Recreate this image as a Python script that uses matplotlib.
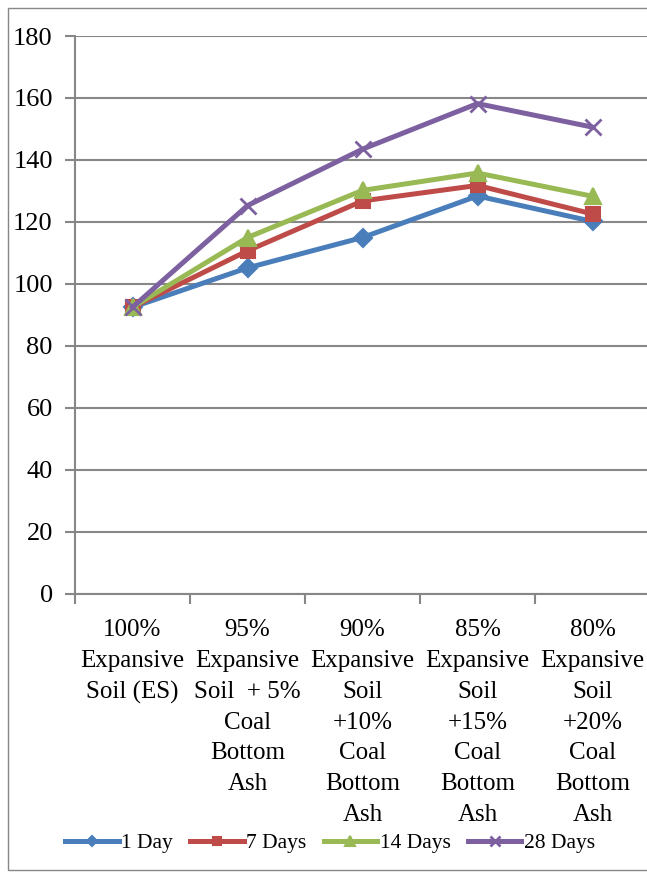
import matplotlib.pyplot as plt
import numpy as np
from matplotlib.patches import Rectangle

categories = [
    "100%\nExpansive\nSoil (ES)",
    "95%\nExpansive\nSoil  + 5%\nCoal\nBottom\nAsh",
    "90%\nExpansive\nSoil\n+10%\nCoal\nBottom\nAsh",
    "85%\nExpansive\nSoil\n+15%\nCoal\nBottom\nAsh",
    "80%\nExpansive\nSoil\n+20%\nCoal\nBottom\nAsh",
]
day_1 = [92.5, 105.2, 115.0, 128.4, 120.2]
days_7 = [92.5, 110.7, 126.8, 131.8, 122.6]
days_14 = [92.5, 115.0, 130.2, 135.8, 128.3]
days_28 = [92.5, 125.3, 143.5, 158.2, 150.6]

series = [
    ("1 Day", day_1, "#4A7EBB", "D", 9),
    ("7 Days", days_7, "#BE4B48", "s", 10),
    ("14 Days", days_14, "#98B954", "^", 12),
    ("28 Days", days_28, "#7D60A0", "x", 12),
]

plt.rcParams["font.family"] = ["Liberation Serif", "DejaVu Serif"]

fig = plt.figure(figsize=(6.47, 8.73), dpi=100)
ax = fig.add_axes([75 / 647, 1 - 594 / 873, 575 / 647, 558 / 873])

x = np.arange(len(categories))
for name, vals, color, marker, ms in series:
    ax.plot(x, vals, color=color, lw=3.6, marker=marker, markersize=ms,
            markeredgewidth=1.5 if marker != "x" else 2.0,
            markerfacecolor=color, markeredgecolor=color, label=name)

ax.set_ylim(0, 180)
ax.set_yticks(np.arange(0, 181, 20))
ax.set_xlim(-0.5, len(categories) - 0.5)
ax.set_xticks(x)
ax.set_xticklabels(categories, fontsize=18, linespacing=1.52)
ax.set_xticks(np.arange(-0.5, len(categories), 1), minor=True)
ax.tick_params(axis="x", which="major", length=0, pad=18)
ax.tick_params(axis="x", which="minor", length=7, width=1.5, color="#878787", direction="out")
ax.tick_params(axis="y", length=7, width=1.5, color="#878787", labelsize=19, pad=9)

ax.grid(axis="y", color="#878787", lw=1.5)
ax.set_axisbelow(True)
for s in ["top", "right"]:
    ax.spines[s].set_visible(False)
for s in ["left", "bottom"]:
    ax.spines[s].set_color("#878787")
    ax.spines[s].set_linewidth(1.5)

handles, labels = ax.get_legend_handles_labels()
leg = fig.legend(handles, labels, loc="center", bbox_to_anchor=(0.51, 1 - 843 / 873),
                 ncol=4, frameon=False, fontsize=15.5, handlelength=2.5,
                 columnspacing=0.8, handletextpad=0.1, markerscale=0.6)

fig.patches.append(Rectangle((8 / 647, 1 - 870 / 873), 700 / 647, 862 / 873,
                             transform=fig.transFigure, fill=False,
                             edgecolor="#878787", lw=1.0))

fig.savefig("out.png", dpi=100)
